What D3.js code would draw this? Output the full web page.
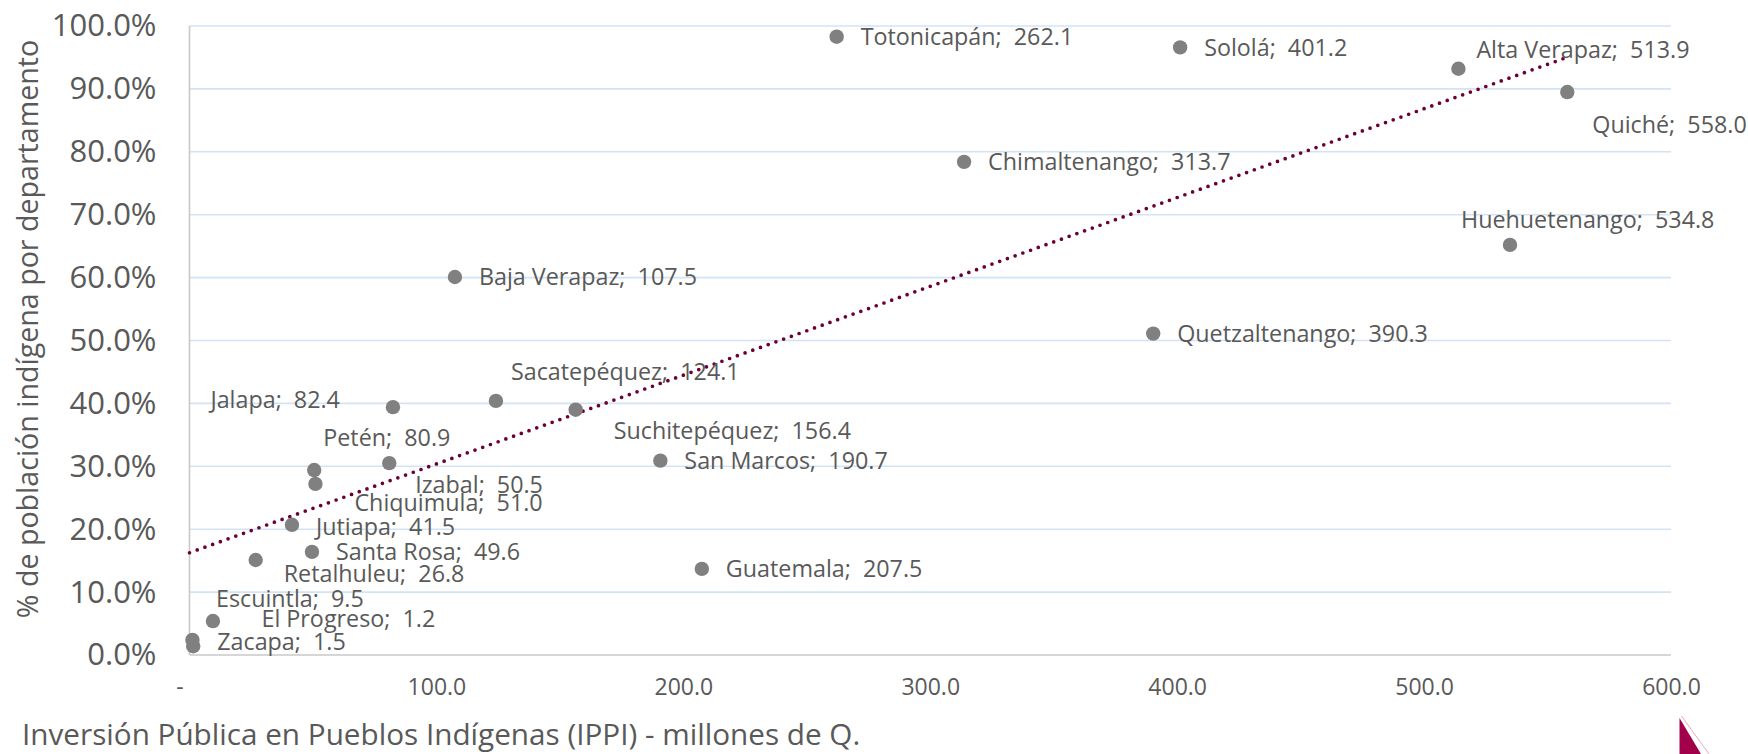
<!DOCTYPE html>
<html>
<head>
<meta charset="utf-8">
<script src="https://cdn.jsdelivr.net/npm/d3@7"></script>
<style>
  html, body { margin: 0; padding: 0; background: #fff; }
  svg { display: block; }
  text { font-family: "Open Sans", sans-serif; fill: #595959; }
</style>
</head>
<body>
<svg id="chart" width="1748" height="754"></svg>
<script>
// ---------- data ----------
const departments = ["Totonicapán","Sololá","Alta Verapaz","Quiché","Chimaltenango","Huehuetenango","Baja Verapaz","Quetzaltenango","Sacatepéquez","Jalapa","Suchitepéquez","Petén","San Marcos","Izabal","Chiquimula","Jutiapa","Santa Rosa","Retalhuleu","Guatemala","Escuintla","El Progreso","Zacapa"];
const ippi = [262.1,401.2,513.9,558.0,313.7,534.8,107.5,390.3,124.1,82.4,156.4,80.9,190.7,50.5,51.0,41.5,49.6,26.8,207.5,9.5,1.2,1.5];
const pctIndigena = [0.983,0.966,0.932,0.895,0.784,0.652,0.601,0.511,0.404,0.394,0.390,0.305,0.309,0.294,0.272,0.207,0.164,0.151,0.137,0.054,0.024,0.014];
const xTicks = [0,100,200,300,400,500,600];
const yTicks = [0,0.1,0.2,0.3,0.4,0.5,0.6,0.7,0.8,0.9,1.0];
const xTitle = "Inversión Pública en Pueblos Indígenas (IPPI) - millones de Q.";
const yTitle = "% de población indígena por departamento";

// ---------- label layout (offset of label from its point) ----------
const labelLayout = [
  ["start",24,0],["start",24,0],["start",18,-19],["start",25,33],["start",24,0],
  ["start",-49,-25],["start",24,0],["start",24,0],["start",15,-29],["end",-53,-7],
  ["start",38,21],["start",-66,-25],["start",24,0],["start",101,15],["start",39,19],
  ["start",24,2],["start",24,0],["start",28,14],["start",24,0],["start",3,-22],
  ["start",69,-21],["start",24,-4]
];

const svg = d3.select("#chart");
const x = d3.scaleLinear().domain([0,600]).range([189.5,1671]);
const y = d3.scaleLinear().domain([0,1]).range([655,26]);

// gridlines
svg.append("g").selectAll("line").data(yTicks.filter(d => d > 0)).join("line")
  .attr("x1", x(0)).attr("x2", x(600))
  .attr("y1", d => y(d)).attr("y2", d => y(d))
  .attr("stroke", "#d3e3f4").attr("stroke-width", 1.6);

// axes lines
svg.append("line").attr("x1", x(0)).attr("x2", x(0)).attr("y1", y(1)).attr("y2", y(0))
  .attr("stroke", "#c8c8c8").attr("stroke-width", 1.6);
svg.append("line").attr("x1", x(0)).attr("x2", x(600)).attr("y1", y(0)).attr("y2", y(0))
  .attr("stroke", "#c8c8c8").attr("stroke-width", 1.6);

// y axis ticks
const yAxis = d3.axisLeft(y).tickValues(yTicks).tickSize(0).tickPadding(33)
  .tickFormat(d => (d*100).toFixed(1) + "%");
const gy = svg.append("g").attr("transform", `translate(${x(0)},0)`).call(yAxis);
gy.select(".domain").remove();
gy.selectAll("text").style("font-size", "31px").style("font-family", '"Open Sans", sans-serif').attr("fill", "#595959");

// x axis ticks
const xAxis = d3.axisBottom(x).tickValues(xTicks).tickSize(0).tickPadding(24)
  .tickFormat(d => d === 0 ? "-" : d.toFixed(1));
const gx = svg.append("g").attr("transform", `translate(0,${y(0)})`).call(xAxis);
gx.select(".domain").remove();
gx.selectAll("text").style("font-size", "23px").style("font-family", '"Open Sans", sans-serif').attr("fill", "#595959");
gx.selectAll(".tick").filter(d => d === 0).select("text").attr("dx", "-10px");

// trend line (least squares on the data)
const n = ippi.length;
const mx = d3.mean(ippi), my = d3.mean(pctIndigena);
let sxy = 0, sxx = 0;
for (let i = 0; i < n; i++) { sxy += (ippi[i]-mx)*(pctIndigena[i]-my); sxx += (ippi[i]-mx)**2; }
const slope = sxy / sxx, intercept = my - slope*mx;
const xMax = d3.max(ippi);
svg.append("line")
  .attr("x1", x(0)).attr("y1", y(intercept))
  .attr("x2", x(xMax)).attr("y2", y(intercept + slope*xMax))
  .attr("stroke", "#6b0035").attr("stroke-width", 3.7)
  .attr("stroke-linecap", "round").attr("stroke-dasharray", "0 8.2");

// points
const pts = departments.map((d, i) => ({name: d, xv: ippi[i], yv: pctIndigena[i], lay: labelLayout[i]}));
svg.append("g").selectAll("circle").data(pts).join("circle")
  .attr("cx", d => x(d.xv)).attr("cy", d => y(d.yv)).attr("r", 7.2)
  .attr("fill", "#808080");

// labels
svg.append("g").selectAll("text").data(pts).join("text")
  .attr("x", d => x(d.xv) + d.lay[1])
  .attr("y", d => y(d.yv) + d.lay[2])
  .attr("dy", "0.35em")
  .attr("text-anchor", d => d.lay[0])
  .style("font-size", "23.3px")
  .style("white-space", "pre")
  .text(d => d.name + ";  " + d.xv.toFixed(1));

// axis titles
svg.append("text").attr("transform", "translate(38,329) rotate(-90)")
  .attr("text-anchor", "middle").style("font-size", "28.6px").text(yTitle);
svg.append("text").attr("x", 22).attr("y", 745)
  .style("font-size", "29.7px").text(xTitle);

// corner logo fragment
svg.append("path").attr("d", d3.line()([[1679.5,718],[1679.5,754],[1701,754]]) + "Z").attr("fill", "#a3004c");
svg.append("line").attr("x1", 1681.5).attr("y1", 716).attr("x2", 1709).attr("y2", 754)
  .attr("stroke", "#e9a6c4").attr("stroke-width", 1);
</script>
</body>
</html>
